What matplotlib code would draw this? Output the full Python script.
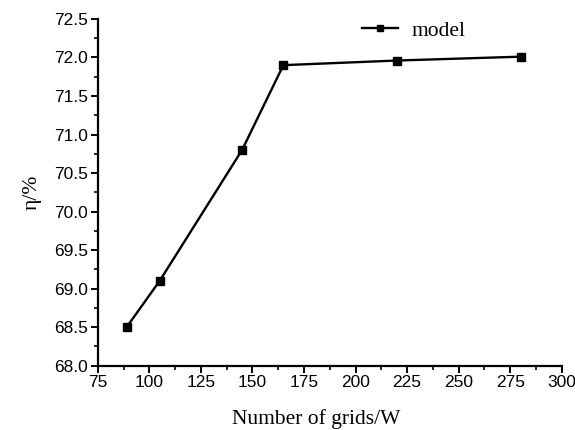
import matplotlib
matplotlib.use("Agg")
import matplotlib.pyplot as plt
from matplotlib.ticker import MultipleLocator, FormatStrFormatter

grids = [89, 105, 145, 165, 220, 280]
eta = [68.5, 69.1, 70.8, 71.9, 71.96, 72.01]
series_name = "model"
x_label = "Number of grids/W"
y_label = "η/%"

fig = plt.figure(figsize=(5.75, 4.3), dpi=100)
ax = fig.add_axes([0.170, 0.1495, 0.807, 0.8065])

ax.plot(grids, eta, color="black", lw=1.7, marker="s", markersize=5.5, label=series_name)

ax.set_xlim(75, 300)
ax.set_ylim(68.0, 72.5)
ax.xaxis.set_major_locator(MultipleLocator(25))
ax.xaxis.set_minor_locator(MultipleLocator(12.5))
ax.yaxis.set_major_locator(MultipleLocator(0.5))
ax.yaxis.set_minor_locator(MultipleLocator(0.25))
ax.yaxis.set_major_formatter(FormatStrFormatter("%.1f"))

for s in ["top", "right"]:
    ax.spines[s].set_visible(False)
for s in ["left", "bottom"]:
    ax.spines[s].set_linewidth(1.6)

ax.tick_params(which="major", direction="out", length=5, width=1.4, labelsize=12.5, pad=2)
ax.tick_params(which="minor", direction="out", length=3, width=1.2)
for lab in ax.get_xticklabels() + ax.get_yticklabels():
    lab.set_family("Liberation Sans")

ax.set_xlabel(x_label, family="Liberation Serif", fontsize=15.5)
ax.xaxis.set_label_coords(0.47, -0.125)
ax.set_ylabel(y_label, family="Liberation Serif", fontsize=15.5, labelpad=9)

leg = ax.legend(loc="upper left", bbox_to_anchor=(0.527, 1.05), frameon=False,
                prop={"family": "Liberation Serif", "size": 15.5},
                handlelength=1.7, handletextpad=0.6, markerscale=0.8)

fig.savefig("out.png", dpi=100)
